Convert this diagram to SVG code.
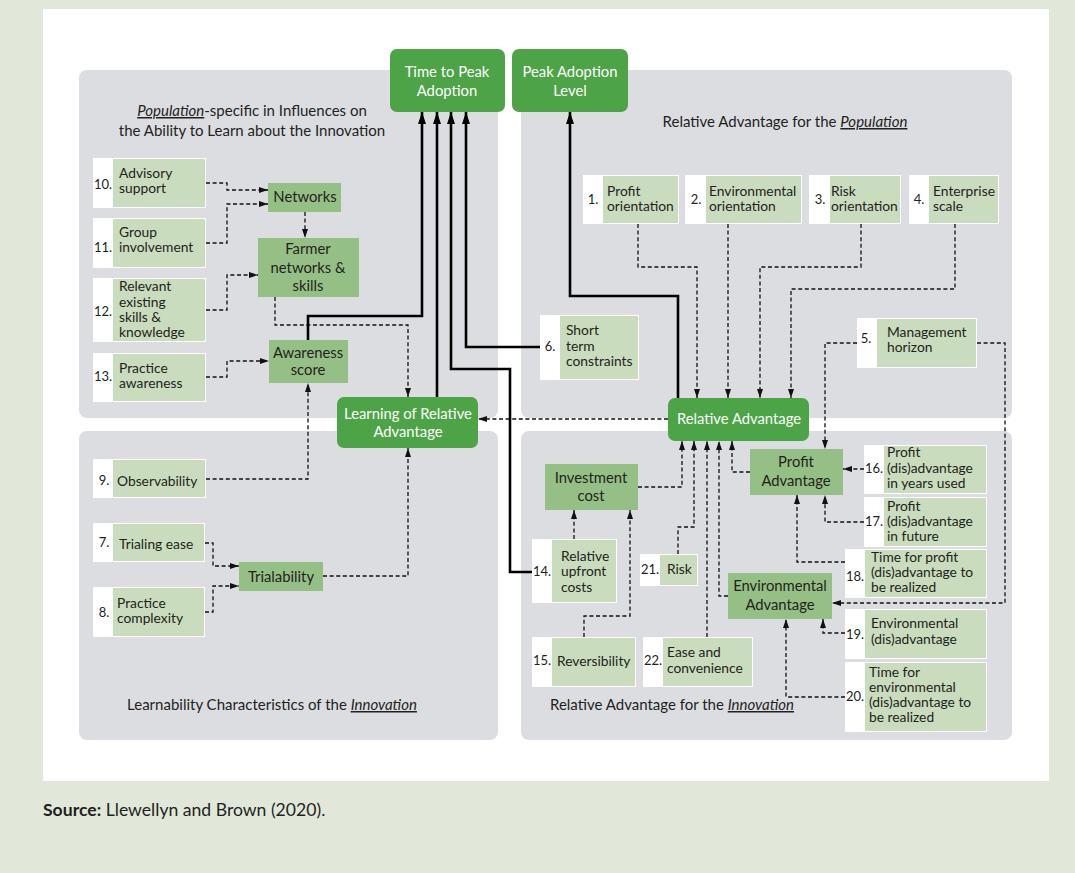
<svg xmlns="http://www.w3.org/2000/svg" width="1075" height="873" viewBox="0 0 1075 873">
  <style>
    text { font-family: Lato, "Open Sans", "Liberation Sans", sans-serif; fill: #231f20; }
    .bg { fill: #e1e8da; }
    .sheet { fill: #ffffff; }
    .panel { fill: #dcdde0; }
    .iw { fill: #ffffff; }
    .ig { fill: #c9dcbd; }
    .mid { fill: #95c085; }
    .dark { fill: #4ca447; }
    .t { font-size: 13.8px; }
    .n { font-size: 13px; text-anchor: middle; }
    .m { font-size: 14.8px; text-anchor: middle; }
    .w { fill: #ffffff; font-size: 14.8px; text-anchor: middle; }
    .cap { font-size: 15px; text-anchor: middle; }
    .u { font-style: italic; text-decoration: underline; }
    .dash { fill: none; stroke: #111; stroke-width: 1.3; stroke-dasharray: 4 2.6; marker-end: url(#ah); }
    .solid { fill: none; stroke: #000; stroke-width: 2.6; marker-end: url(#ahb); }
  </style>
  <defs>
    <marker id="ah" markerUnits="userSpaceOnUse" markerWidth="9" markerHeight="7" refX="9" refY="3.5" orient="auto">
      <path d="M0,0.5 L9,3.5 L0,6.5 z" fill="#111"/>
    </marker>
    <marker id="ahb" markerUnits="userSpaceOnUse" markerWidth="12" markerHeight="9" refX="12" refY="4.5" orient="auto">
      <path d="M0,0.5 L12,4.5 L0,8.5 z" fill="#000"/>
    </marker>
  </defs>

  <!-- page background and white sheet -->
  <rect class="bg" x="0" y="0" width="1075" height="873"/>
  <rect class="sheet" x="43" y="9" width="1006" height="772"/>

  <!-- four grey quadrants -->
  <rect class="panel" x="79" y="70" width="419" height="348" rx="8"/>
  <rect class="panel" x="79" y="431" width="419" height="309" rx="8"/>
  <rect class="panel" x="521" y="70" width="491" height="348" rx="8"/>
  <rect class="panel" x="521" y="431" width="491" height="309" rx="8"/>

  <!-- quadrant captions -->
  <text class="cap" x="252" y="116"><tspan class="u">Population</tspan>-specific in Influences on</text>
  <text class="cap" x="252" y="136">the Ability to Learn about the Innovation</text>
  <text class="cap" x="785" y="127">Relative Advantage for the <tspan class="u">Population</tspan></text>
  <text class="cap" x="272" y="710">Learnability Characteristics of the <tspan class="u">Innovation</tspan></text>
  <text class="cap" x="672" y="710">Relative Advantage for the <tspan class="u">Innovation</tspan></text>

  <!-- connectors -->
  <g id="connectors">
    <path class="dash" d="M206,183 H227 V190 H268"/>
    <path class="dash" d="M206,243 H227 V204 H268"/>
    <path class="dash" d="M206,310 H227 V275 H258"/>
    <path class="dash" d="M206,377 H227 V361 H269"/>
    <path class="dash" d="M305,212 V238"/>
    <path class="dash" d="M275,297 V325 H408 V397"/>
    <path class="dash" d="M206,479 H308 V383"/>
    <path class="dash" d="M323,576 H408 V448"/>
    <path class="dash" d="M205,543 H213 V566 H239"/>
    <path class="dash" d="M205,612 H213 V586 H239"/>
    <path class="dash" d="M668,419 H478"/>
    <path class="dash" d="M638,224 V267 H697 V398"/>
    <path class="dash" d="M728,224 V398"/>
    <path class="dash" d="M861,224 V267 H760 V398"/>
    <path class="dash" d="M955,224 V289 H791 V398"/>
    <path class="dash" d="M857,343 H825 V449"/>
    <path class="dash" d="M977,343 H1005 V603 H832"/>
    <path class="dash" d="M638,487 H682 V441"/>
    <path class="dash" d="M678,554 V527 H694 V441"/>
    <path class="dash" d="M707,637 V441"/>
    <path class="dash" d="M728,596 H719 V441"/>
    <path class="dash" d="M750,472 H732 V441"/>
    <path class="dash" d="M574,539 V510"/>
    <path class="dash" d="M584,637 V616 H630 V510"/>
    <path class="dash" d="M864,469 H843"/>
    <path class="dash" d="M864,522 H825 V495"/>
    <path class="dash" d="M845,562 H797 V495"/>
    <path class="dash" d="M845,633 H823 V619"/>
    <path class="dash" d="M845,697 H786 V619"/>
    <path class="solid" d="M308,340 V316 H422 V112"/>
    <path class="solid" d="M437,397 V112"/>
    <path class="solid" d="M532,572 H510 V369 H451 V112"/>
    <path class="solid" d="M540,347 H466 V112"/>
    <path class="solid" d="M678,398 V296 H570 V112"/>
  </g>

  <!-- outcome nodes -->
  <g id="time-to-peak">
    <rect class="dark" x="390" y="49" width="115" height="63" rx="7"/>
    <text class="w" x="447" y="77">Time to Peak</text>
    <text class="w" x="447" y="96">Adoption</text>
  </g>
  <g id="peak-level">
    <rect class="dark" x="512" y="49" width="116" height="63" rx="7"/>
    <text class="w" x="570" y="77">Peak Adoption</text>
    <text class="w" x="570" y="96">Level</text>
  </g>
  <g id="learning-ra">
    <rect class="dark" x="337" y="397" width="141" height="51" rx="7"/>
    <text class="w" x="408" y="419">Learning of Relative</text>
    <text class="w" x="408" y="437">Advantage</text>
  </g>
  <g id="relative-advantage">
    <rect class="dark" x="668" y="398" width="141" height="43" rx="7"/>
    <text class="w" x="739" y="424">Relative Advantage</text>
  </g>

  <!-- intermediate nodes -->
  <g id="networks">
    <rect class="mid" x="268" y="183" width="73" height="29"/>
    <text class="m" x="305" y="202">Networks</text>
  </g>
  <g id="farmer-networks">
    <rect class="mid" x="258" y="238" width="101" height="59"/>
    <text class="m" x="308" y="254">Farmer</text>
    <text class="m" x="308" y="273">networks &amp;</text>
    <text class="m" x="308" y="291">skills</text>
  </g>
  <g id="awareness">
    <rect class="mid" x="269" y="340" width="79" height="43"/>
    <text class="m" x="308" y="358">Awareness</text>
    <text class="m" x="308" y="375">score</text>
  </g>
  <g id="trialability">
    <rect class="mid" x="239" y="562" width="84" height="29"/>
    <text class="m" x="281" y="582">Trialability</text>
  </g>
  <g id="investment-cost">
    <rect class="mid" x="545" y="464" width="93" height="46"/>
    <text class="m" x="591" y="483">Investment</text>
    <text class="m" x="591" y="501">cost</text>
  </g>
  <g id="profit-advantage">
    <rect class="mid" x="750" y="449" width="93" height="46"/>
    <text class="m" x="796" y="467">Profit</text>
    <text class="m" x="796" y="486">Advantage</text>
  </g>
  <g id="environmental-advantage">
    <rect class="mid" x="728" y="573" width="104" height="46"/>
    <text class="m" x="780" y="591">Environmental</text>
    <text class="m" x="780" y="610">Advantage</text>
  </g>

  <!-- numbered factors: population learning -->
  <g id="f10">
    <rect class="iw" x="93" y="158" width="113" height="50"/>
    <rect class="ig" x="113" y="159" width="92" height="48"/>
    <text class="n" x="103" y="189">10.</text>
    <text class="t" x="119" y="178">Advisory</text>
    <text class="t" x="119" y="193">support</text>
  </g>
  <g id="f11">
    <rect class="iw" x="93" y="218" width="113" height="50"/>
    <rect class="ig" x="113" y="219" width="92" height="48"/>
    <text class="n" x="103" y="252">11.</text>
    <text class="t" x="119" y="237">Group</text>
    <text class="t" x="119" y="252">involvement</text>
  </g>
  <g id="f12">
    <rect class="iw" x="93" y="278" width="113" height="64"/>
    <rect class="ig" x="113" y="279" width="92" height="62"/>
    <text class="n" x="103" y="316">12.</text>
    <text class="t" x="119" y="291">Relevant</text>
    <text class="t" x="119" y="307">existing</text>
    <text class="t" x="119" y="322">skills &amp;</text>
    <text class="t" x="119" y="337">knowledge</text>
  </g>
  <g id="f13">
    <rect class="iw" x="93" y="353" width="113" height="49"/>
    <rect class="ig" x="113" y="354" width="92" height="47"/>
    <text class="n" x="103" y="381">13.</text>
    <text class="t" x="119" y="373">Practice</text>
    <text class="t" x="119" y="388">awareness</text>
  </g>

  <!-- numbered factors: learnability -->
  <g id="f9">
    <rect class="iw" x="93" y="459" width="113" height="39"/>
    <rect class="ig" x="113" y="460" width="92" height="37"/>
    <text class="n" x="104" y="485">9.</text>
    <text class="t" x="117" y="486">Observability</text>
  </g>
  <g id="f7">
    <rect class="iw" x="93" y="523" width="112" height="39"/>
    <rect class="ig" x="113" y="524" width="91" height="37"/>
    <text class="n" x="104" y="547">7.</text>
    <text class="t" x="119" y="549">Trialing ease</text>
  </g>
  <g id="f8">
    <rect class="iw" x="93" y="587" width="112" height="50"/>
    <rect class="ig" x="113" y="588" width="91" height="48"/>
    <text class="n" x="104" y="617">8.</text>
    <text class="t" x="117" y="608">Practice</text>
    <text class="t" x="117" y="623">complexity</text>
  </g>

  <!-- numbered factors: population relative advantage -->
  <g id="f1">
    <rect class="iw" x="583" y="175" width="96" height="49"/>
    <rect class="ig" x="603" y="176" width="75" height="47"/>
    <text class="n" x="593" y="204">1.</text>
    <text class="t" x="607" y="196">Profit</text>
    <text class="t" x="607" y="211">orientation</text>
  </g>
  <g id="f2">
    <rect class="iw" x="685" y="175" width="117" height="49"/>
    <rect class="ig" x="706" y="176" width="95" height="47"/>
    <text class="n" x="696" y="204">2.</text>
    <text class="t" x="709" y="196">Environmental</text>
    <text class="t" x="709" y="211">orientation</text>
  </g>
  <g id="f3">
    <rect class="iw" x="809" y="175" width="92" height="49"/>
    <rect class="ig" x="830" y="176" width="70" height="47"/>
    <text class="n" x="820" y="204">3.</text>
    <text class="t" x="831" y="196">Risk</text>
    <text class="t" x="831" y="211">orientation</text>
  </g>
  <g id="f4">
    <rect class="iw" x="909" y="175" width="90" height="49"/>
    <rect class="ig" x="929" y="176" width="69" height="47"/>
    <text class="n" x="919" y="204">4.</text>
    <text class="t" x="933" y="196">Enterprise</text>
    <text class="t" x="933" y="211">scale</text>
  </g>
  <g id="f5">
    <rect class="iw" x="857" y="318" width="120" height="50"/>
    <rect class="ig" x="877" y="319" width="99" height="48"/>
    <text class="n" x="866" y="343">5.</text>
    <text class="t" x="887" y="337">Management</text>
    <text class="t" x="887" y="352">horizon</text>
  </g>
  <g id="f6">
    <rect class="iw" x="540" y="315" width="99" height="65"/>
    <rect class="ig" x="560" y="316" width="78" height="63"/>
    <text class="n" x="550" y="351">6.</text>
    <text class="t" x="566" y="335">Short</text>
    <text class="t" x="566" y="351">term</text>
    <text class="t" x="566" y="366">constraints</text>
  </g>

  <!-- numbered factors: innovation relative advantage -->
  <g id="f14">
    <rect class="iw" x="532" y="539" width="85" height="64"/>
    <rect class="ig" x="552" y="540" width="64" height="62"/>
    <text class="n" x="542" y="576">14.</text>
    <text class="t" x="561" y="561">Relative</text>
    <text class="t" x="561" y="576">upfront</text>
    <text class="t" x="561" y="592">costs</text>
  </g>
  <g id="f21">
    <rect class="iw" x="640" y="554" width="58" height="32"/>
    <rect class="ig" x="660" y="555" width="37" height="30"/>
    <text class="n" x="650" y="574">21.</text>
    <text class="t" x="667" y="574">Risk</text>
  </g>
  <g id="f15">
    <rect class="iw" x="532" y="637" width="104" height="50"/>
    <rect class="ig" x="552" y="638" width="83" height="48"/>
    <text class="n" x="542" y="665">15.</text>
    <text class="t" x="557" y="666">Reversibility</text>
  </g>
  <g id="f22">
    <rect class="iw" x="643" y="637" width="110" height="50"/>
    <rect class="ig" x="663" y="638" width="89" height="48"/>
    <text class="n" x="653" y="665">22.</text>
    <text class="t" x="667" y="657">Ease and</text>
    <text class="t" x="667" y="673">convenience</text>
  </g>
  <g id="f16">
    <rect class="iw" x="864" y="445" width="123" height="49"/>
    <rect class="ig" x="884" y="446" width="102" height="47"/>
    <text class="n" x="874" y="473">16.</text>
    <text class="t" x="887" y="457">Profit</text>
    <text class="t" x="887" y="473">(dis)advantage</text>
    <text class="t" x="887" y="488">in years used</text>
  </g>
  <g id="f17">
    <rect class="iw" x="864" y="497" width="123" height="50"/>
    <rect class="ig" x="884" y="498" width="102" height="48"/>
    <text class="n" x="874" y="526">17.</text>
    <text class="t" x="887" y="511">Profit</text>
    <text class="t" x="887" y="526">(dis)advantage</text>
    <text class="t" x="887" y="541">in future</text>
  </g>
  <g id="f18">
    <rect class="iw" x="845" y="549" width="142" height="49"/>
    <rect class="ig" x="865" y="550" width="121" height="47"/>
    <text class="n" x="855" y="581">18.</text>
    <text class="t" x="871" y="562">Time for profit</text>
    <text class="t" x="871" y="577">(dis)advantage to</text>
    <text class="t" x="871" y="592">be realized</text>
  </g>
  <g id="f19">
    <rect class="iw" x="845" y="609" width="142" height="50"/>
    <rect class="ig" x="865" y="610" width="121" height="48"/>
    <text class="n" x="855" y="639">19.</text>
    <text class="t" x="871" y="628">Environmental</text>
    <text class="t" x="871" y="644">(dis)advantage</text>
  </g>
  <g id="f20">
    <rect class="iw" x="845" y="662" width="142" height="70"/>
    <rect class="ig" x="865" y="663" width="121" height="68"/>
    <text class="n" x="855" y="701">20.</text>
    <text class="t" x="869" y="677">Time for</text>
    <text class="t" x="869" y="692">environmental</text>
    <text class="t" x="869" y="707">(dis)advantage to</text>
    <text class="t" x="869" y="722">be realized</text>
  </g>

  <!-- source line -->
  <text x="43" y="816" style="font-size:17.6px"><tspan font-weight="bold">Source:</tspan> Llewellyn and Brown (2020).</text>
</svg>
